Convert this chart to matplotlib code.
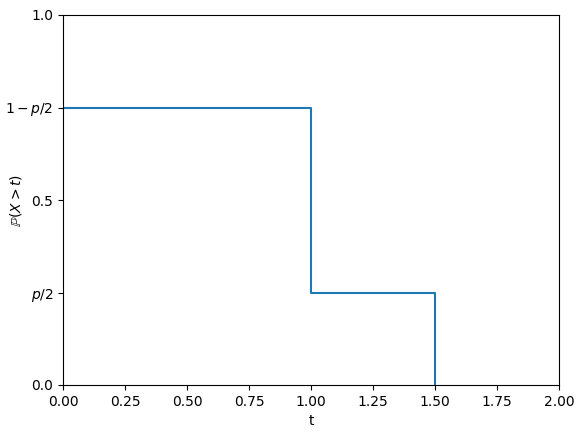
import numpy as np
import matplotlib.pyplot as plt

# step function values
t_vals = [0.0, 1.0, 1.0, 1.5, 1.5]
p_vals = [0.75, 0.75, 0.25, 0.25, 0.0]

ytick_pos = [0.0, 0.25, 0.5, 0.75, 1.0]
ytick_lab = ['0.0', '$p/2$', '0.5', '$1-p/2$', '1.0']

fig = plt.figure(figsize=(5.84, 4.38), dpi=100)
ax = fig.add_axes([63/584, 1 - 385/438, 496/584, 370/438])
ax.plot(t_vals, p_vals, color='#1f77b4')
ax.set_xlim(0, 2)
ax.set_ylim(0, 1)
ax.set_yticks(ytick_pos)
ax.set_yticklabels(ytick_lab)
ax.set_xlabel('t')
ax.set_ylabel(r'$\mathbb{P}(X > t)$')
ax.yaxis.set_label_coords(-0.079, 0.5)

plt.savefig('out.png', dpi=100)
